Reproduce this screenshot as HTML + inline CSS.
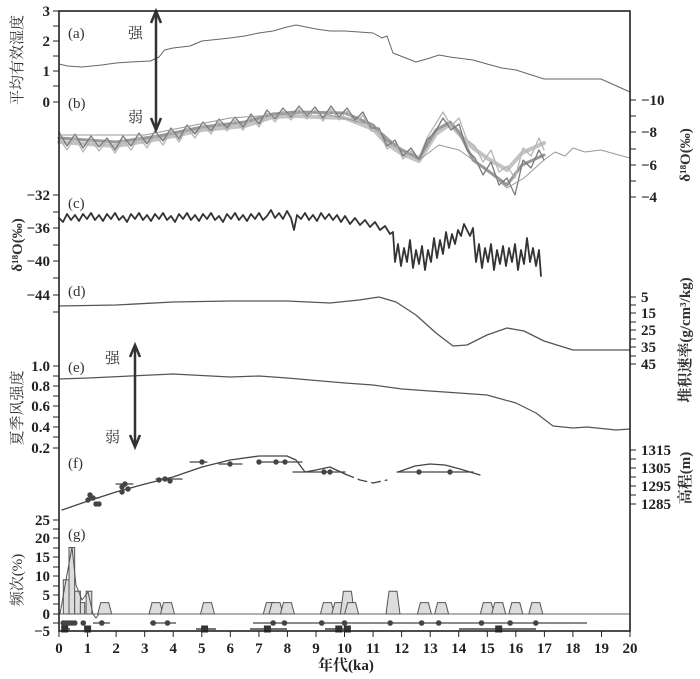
<!DOCTYPE html>
<html><head><meta charset="utf-8"><style>
html,body{margin:0;padding:0;background:#fff;}
svg{display:block;font-family:"Liberation Serif","Noto Serif CJK SC",serif;}
.t{font-size:15px;fill:#222;font-weight:bold}
.c{font-size:15px;fill:#333}
</style></head><body>
<svg width="700" height="679" viewBox="0 0 700 679" xmlns="http://www.w3.org/2000/svg">
<g fill="none" stroke-linejoin="round" stroke-linecap="round">
<!-- a -->
<polyline stroke="#666" stroke-width="1" points="59,64 67.6,66 81.8,67 101.8,65 116,63 130.4,62 150.4,61 159,57 164.6,50 173,48 190,46 202,41 230,38 244.6,36 259,33 273,31 287,27 296,25 316,29 330,31 345,31 373,33 382,38 387,36 393,53 416,62 430,58 439,55 450,57 473,60 487,64 502,68 516,70 544,79 573,79 601,79 630,92"/>
<!-- b -->
<polyline stroke="#c4c4c4" stroke-width="4" points="59,142 116,146 159,139 202,130 245,126 273,117 296,116 316,117 345,118 373,129 387,144 402,154 419,161 436,134 450,124 459,134 473,148 487,158 507,170 522,153 533,148 544,143"/>
<polyline stroke="#999" stroke-width="3" points="59,138 116,142 159,136 202,127 245,122 273,114 296,112 345,113 373,125 387,140 402,150 419,158 436,130 450,122 459,132 473,160 487,170 507,185 522,165 544,155"/>
<polyline stroke="#b5b5b5" stroke-width="1.3" points="59,138 67,150 75,137 83,152 91,140 99,151 107,141 115,153 123,140 131,150 139,137 147,148 155,135 163,145 171,131 179,142 187,128 195,138 203,125 211,134 219,122 227,131 235,120 243,130 251,117 259,127 267,113 275,122 283,111 291,120 299,109 307,119 315,110 323,121 331,109 339,120 347,111 355,123 363,115 371,131 379,131 387,149 395,143 403,159 411,151 419,158 427,138 435,125 443,112 451,126 459,118 467,140 475,146 483,162 491,150 499,172 507,166 515,178 523,148 531,156 539,138 544,150"/>
<polyline stroke="#7a7a7a" stroke-width="1.3" points="59,132 67,146 75,134 83,148 91,136 99,147 107,138 115,150 123,136 131,146 139,133 147,144 155,131 163,141 171,128 179,139 187,125 195,134 203,122 211,131 219,119 227,128 235,117 243,127 251,114 259,124 267,110 275,119 283,108 291,117 299,106 307,116 315,107 323,118 331,106 339,117 347,108 355,120 363,112 371,128 379,128 387,146 395,140 403,156 411,148 419,160 427,140 435,132 443,118 451,130 459,124 467,150 475,158 483,175 491,162 499,185 507,178 515,195 523,160 531,168 539,150 544,160"/>
<polyline stroke="#999" stroke-width="1" points="59,135 145,135 230,118 316,112 373,125 402,150 419,160 439,145 459,150 487,170 507,188 524,178 544,160 555,152 565,156 573,148 585,152 601,150 615,154 630,158"/>
<!-- c -->
<polyline stroke="#333" stroke-width="1.8" points="59,218 63,222 67,214 71,220 75,215 79,221 83,214 87,219 91,213 95,220 99,215 103,221 107,214 111,219 115,213 119,220 123,216 127,222 131,214 135,219 139,213 143,220 147,215 151,221 155,214 159,219 163,213 167,220 171,216 175,222 179,214 183,219 187,213 191,220 195,215 199,221 203,214 207,219 211,213 215,220 219,216 223,222 227,214 231,219 235,213 239,220 243,215 247,221 251,214 255,219 259,213 263,220 267,216 271,210 275,218 279,213 283,219 287,211 291,218 294,230 297,215 301,219 305,213 309,220 313,215 317,221 321,213 325,219 329,214 333,220 337,215 341,222 345,216 350,224 355,218 360,225 365,220 370,227 375,222 380,230 385,226 390,234 393,232 395,262 398,244 401,266 404,248 407,262 410,240 413,268 416,250 419,264 422,246 425,270 428,250 431,262 434,238 437,258 440,240 443,254 446,232 449,248 452,234 455,244 458,230 461,236 464,224 467,230 470,236 473,228 476,262 479,244 482,268 485,248 488,262 491,244 494,270 497,250 500,264 503,246 506,266 509,248 512,262 515,244 518,270 521,250 524,264 527,238 530,262 533,248 536,266 539,250 541,276"/>
<!-- d -->
<polyline stroke="#555" stroke-width="1.3" points="59,306 116,305 173,302 230,301 287,301 330,303 359,300 379,297 396,302 416,315 436,333 453,346 467,345 487,335 507,328 524,331 544,341 573,350 630,350"/>
<!-- e -->
<polyline stroke="#555" stroke-width="1.2" points="59,379 88,378 130,376 173,374 230,377 259,376 287,378 345,383 373,385 402,389 430,391 459,393 487,395 516,403 536,413 553,426 573,428 587,427 616,430 630,429"/>
<!-- f -->
<polyline stroke="#444" stroke-width="1.3" points="62,510 88,501 116,492 145,484 173,477 202,467 230,460 259,456 287,456 296,460 305,472 316,470 330,467 345,474"/>
<polyline stroke="#444" stroke-width="1.3" stroke-dasharray="9 5" points="345,474 360,480 373,483 387,480"/>
<polyline stroke="#444" stroke-width="1.3" points="398,472 415,466 430,464 445,465 460,469 480,475"/>
<g stroke="#444" stroke-width="1.2">
<line x1="259" y1="462" x2="302" y2="462"/><line x1="293" y1="472" x2="345" y2="472"/><line x1="397" y1="472" x2="473" y2="472"/>
<line x1="190" y1="462" x2="207" y2="462"/><line x1="219" y1="464" x2="242" y2="464"/><line x1="156" y1="479" x2="182" y2="479"/>
<line x1="116" y1="484" x2="133" y2="484"/><line x1="88" y1="498" x2="99" y2="498"/>
</g>
</g>
<g fill="#444">
<circle cx="202" cy="462" r="2.7"/><circle cx="230" cy="464" r="2.7"/><circle cx="259" cy="462" r="2.7"/><circle cx="276" cy="462" r="2.7"/><circle cx="285" cy="462" r="2.7"/>
<circle cx="324" cy="472" r="2.7"/><circle cx="330" cy="472" r="2.7"/><circle cx="419" cy="472" r="2.7"/><circle cx="450" cy="472" r="2.7"/>
<circle cx="159" cy="480" r="2.7"/><circle cx="165" cy="479" r="2.7"/><circle cx="170" cy="481" r="2.7"/>
<circle cx="122" cy="487" r="2.7"/><circle cx="125" cy="484" r="2.7"/><circle cx="128" cy="489" r="2.7"/><circle cx="122" cy="492" r="2.7"/>
<circle cx="90" cy="495" r="2.7"/><circle cx="93" cy="498" r="2.7"/><circle cx="88" cy="500" r="2.7"/><circle cx="96" cy="504" r="2.7"/><circle cx="99" cy="504" r="2.7"/>
</g>
<!-- g -->
<line x1="59" y1="614" x2="630" y2="614" stroke="#666" stroke-width="1"/>
<g fill="#ddd" stroke="#555" stroke-width="1">
<rect x="63.3" y="579.8" width="5.7" height="34.2"/><rect x="69" y="547.5" width="5.7" height="66.5"/><rect x="74.7" y="591.2" width="5.7" height="22.8"/><rect x="80.4" y="602.6" width="4.3" height="11.4"/><rect x="86.1" y="591.2" width="5.7" height="22.8"/>
<path d="M97.7 614L100.7 602.6L108.7 602.6L111.7 614Z"/>
<path d="M149 614L152 602.6L160 602.6L163 614Z"/>
<path d="M160.5 614L163.5 602.6L171.5 602.6L174.5 614Z"/>
<path d="M200.5 614L203.5 602.6L211.5 602.6L214.5 614Z"/>
<path d="M263.3 614L266.3 602.6L274.3 602.6L277.3 614Z"/>
<path d="M269 614L272 602.6L280 602.6L283 614Z"/>
<path d="M280.4 614L283.4 602.6L291.4 602.6L294.4 614Z"/>
<path d="M320.4 614L323.4 602.6L331.4 602.6L334.4 614Z"/>
<path d="M331.8 614L334.8 602.6L342.8 602.6L345.8 614Z"/>
<path d="M340.4 614L343.4 591.2L351.4 591.2L354.4 614Z"/>
<path d="M344.6 614L347.6 602.6L355.6 602.6L358.6 614Z"/>
<path d="M386 614L389 591.2L397 591.2L400 614Z"/>
<path d="M417.4 614L420.4 602.6L428.4 602.6L431.4 614Z"/>
<path d="M434.6 614L437.6 602.6L445.6 602.6L448.6 614Z"/>
<path d="M480.3 614L483.3 602.6L491.3 602.6L494.3 614Z"/>
<path d="M491.7 614L494.7 602.6L502.7 602.6L505.7 614Z"/>
<path d="M508.8 614L511.8 602.6L519.8 602.6L522.8 614Z"/>
<path d="M528.8 614L531.8 602.6L539.8 602.6L542.8 614Z"/>
</g>
<polyline fill="none" stroke="#555" stroke-width="1" points="60,614 66,580 72,547 76,585 82,600 88,592 93,614 96,618 99,614"/>
<g stroke="#444" stroke-width="1.2">
<line x1="62" y1="623" x2="76" y2="623"/><line x1="93" y1="623" x2="110" y2="623"/><line x1="150" y1="623" x2="176" y2="623"/><line x1="253" y1="623" x2="587" y2="623"/>
</g>
<g stroke="#444" stroke-width="1.6">
<line x1="62" y1="629" x2="70" y2="629"/><line x1="196" y1="629" x2="216" y2="629"/><line x1="250" y1="629" x2="287" y2="629"/><line x1="325" y1="629" x2="348" y2="629"/><line x1="459" y1="629" x2="536" y2="629"/>
</g>
<g fill="#444">
<circle cx="63.3" cy="623" r="2.8"/><circle cx="66.1" cy="623" r="2.8"/><circle cx="69" cy="623" r="2.8"/><circle cx="71.8" cy="623" r="2.8"/><circle cx="74.7" cy="623" r="2.8"/><circle cx="83.3" cy="623" r="2.8"/><circle cx="101.8" cy="623" r="2.8"/><circle cx="153.2" cy="623" r="2.8"/><circle cx="167.5" cy="623" r="2.8"/><circle cx="273.1" cy="623" r="2.8"/><circle cx="284.5" cy="623" r="2.8"/><circle cx="321.7" cy="623" r="2.8"/><circle cx="344.5" cy="623" r="2.8"/><circle cx="390.2" cy="623" r="2.8"/><circle cx="421.6" cy="623" r="2.8"/><circle cx="438.7" cy="623" r="2.8"/><circle cx="481.5" cy="623" r="2.8"/><circle cx="510.1" cy="623" r="2.8"/><circle cx="535.8" cy="623" r="2.8"/>
</g>
<g fill="#333">
<rect x="61.2" y="625.5" width="7" height="7"/><rect x="84.1" y="625.5" width="7" height="7"/><rect x="201.1" y="625.5" width="7" height="7"/><rect x="263.9" y="625.5" width="7" height="7"/><rect x="335.3" y="625.5" width="7" height="7"/><rect x="343.9" y="625.5" width="7" height="7"/><rect x="495.2" y="625.5" width="7" height="7"/>
</g>
<!-- arrows -->
<g fill="none" stroke="#333" stroke-width="2.5">
<line x1="156" y1="14" x2="156" y2="127"/><path d="M151 23L156 11L161 23"/><path d="M151 118L156 130L161 118"/>
<line x1="135" y1="348" x2="135" y2="444"/><path d="M130 357L135 345L140 357"/><path d="M130 435L135 447L140 435"/>
</g>
<rect x="59" y="11" width="571" height="620" fill="none" stroke="#222" stroke-width="1.6"/>
<!-- ticks -->
<g stroke="#222" stroke-width="1">
<path d="M53 11H59M53 26H59M53 41H59M53 56H59M53 71H59M53 86H59M53 102H59
M53 195H59M53 212H59M53 228H59M53 245H59M53 261H59M53 278H59M53 295H59M53 312H59
M53 366H59M53 376H59M53 386H59M53 396H59M53 406H59M53 417H59M53 427H59M53 437H59M53 448H59
M53 520H59M53 529H59M53 538H59M53 548H59M53 557H59M53 567H59M53 576H59M53 586H59M53 595H59M53 604H59M53 614H59M53 623H59
M630 100H636M630 116H636M630 132H636M630 149H636M630 165H636M630 181H636M630 197H636
M630 297H636M630 305H636M630 313H636M630 322H636M630 330H636M630 339H636M630 347H636M630 356H636M630 364H636
M630 450H636M630 459H636M630 468H636M630 477H636M630 486H636M630 495H636M630 504H636
M59 631V637M87.6 631V637M116.1 631V637M144.7 631V637M173.2 631V637M201.8 631V637M230.3 631V637M258.9 631V637M287.4 631V637M316 631V637M344.5 631V637M373.1 631V637M401.6 631V637M430.2 631V637M458.7 631V637M487.3 631V637M515.8 631V637M544.4 631V637M572.9 631V637M601.5 631V637M630 631V637"/>
</g>
<g class="t" text-anchor="end">
<text x="50" y="16">3</text><text x="50" y="46">2</text><text x="50" y="76">1</text><text x="50" y="107">0</text>
<text x="50" y="200">−32</text><text x="50" y="233">−36</text><text x="50" y="266">−40</text><text x="50" y="300">−44</text>
<text x="50" y="371">1.0</text><text x="50" y="391">0.8</text><text x="50" y="411">0.6</text><text x="50" y="432">0.4</text><text x="50" y="453">0.2</text>
<text x="50" y="525">25</text><text x="50" y="543">20</text><text x="50" y="562">15</text><text x="50" y="581">10</text><text x="50" y="600">5</text><text x="50" y="619">0</text><text x="50" y="636">−5</text>
</g>
<g class="t">
<text x="641" y="105">−10</text><text x="641" y="137">−8</text><text x="641" y="170">−6</text><text x="641" y="202">−4</text>
<text x="641" y="302">5</text><text x="641" y="318">15</text><text x="641" y="335">25</text><text x="641" y="352">35</text><text x="641" y="369">45</text>
<text x="641" y="455">1315</text><text x="641" y="473">1305</text><text x="641" y="491">1295</text><text x="641" y="509">1285</text>
</g>
<g class="t" text-anchor="middle">
<text x="59" y="653">0</text><text x="87.6" y="653">1</text><text x="116.1" y="653">2</text><text x="144.7" y="653">3</text><text x="173.2" y="653">4</text><text x="201.8" y="653">5</text><text x="230.3" y="653">6</text><text x="258.9" y="653">7</text><text x="287.4" y="653">8</text><text x="316" y="653">9</text><text x="344.5" y="653">10</text><text x="373.1" y="653">11</text><text x="401.6" y="653">12</text><text x="430.2" y="653">13</text><text x="458.7" y="653">14</text><text x="487.3" y="653">15</text><text x="515.8" y="653">16</text><text x="544.4" y="653">17</text><text x="572.9" y="653">18</text><text x="601.5" y="653">19</text><text x="630" y="653">20</text>
</g>
<g class="c">
<text x="68" y="38">(a)</text><text x="68" y="108">(b)</text><text x="68" y="208">(c)</text><text x="68" y="296">(d)</text>
<text x="68" y="372">(e)</text><text x="68" y="468">(f)</text><text x="68" y="539">(g)</text>
<text x="128" y="38">强</text><text x="128" y="122">弱</text><text x="105" y="363">强</text><text x="105" y="442">弱</text>
<text x="318" y="670" class="t">年代(ka)</text>
<text transform="translate(22,60) rotate(-90)" text-anchor="middle">平均有效湿度</text>
<text transform="translate(22,408) rotate(-90)" text-anchor="middle">夏季风强度</text>
<text transform="translate(22,580) rotate(-90)" text-anchor="middle">频次(%)</text>
<text transform="translate(22,245) rotate(-90)" text-anchor="middle" font-weight="bold">δ¹⁸O(‰)</text>
<text transform="translate(690,155) rotate(-90)" text-anchor="middle" font-weight="bold">δ¹⁸O(‰)</text>
<text transform="translate(690,340) rotate(-90)" text-anchor="middle" font-weight="bold">堆积速率(g/cm³/kg)</text>
<text transform="translate(690,478) rotate(-90)" text-anchor="middle" font-weight="bold">高程(m)</text>
</g>
</svg>
</body></html>
